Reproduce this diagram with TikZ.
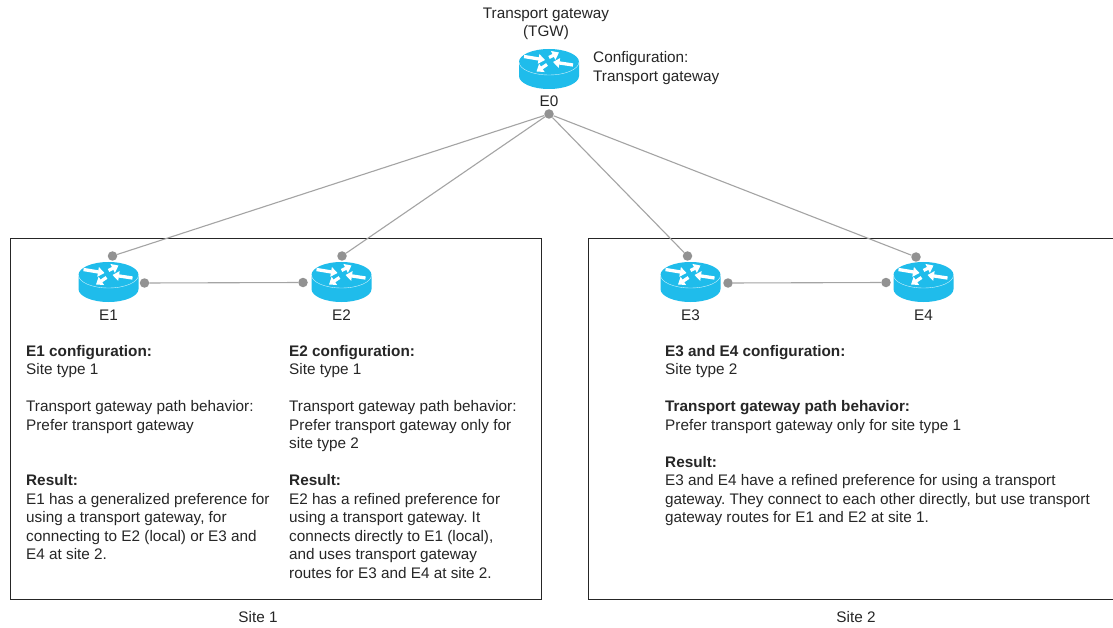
\documentclass[tikz,border=0pt]{standalone}
\usepackage{fontspec}
\usetikzlibrary{arrows.meta}
\setmainfont{Liberation Sans}
\frenchspacing
\definecolor{rblue}{HTML}{1FBCEB}
\definecolor{rline}{HTML}{A4A4A4}
\definecolor{rdot}{HTML}{929292}
\definecolor{txt}{HTML}{262626}
\tikzset{
  x=1pt,y=-1pt,
  dotnode/.style={circle,fill=rdot,draw=none,minimum size=9.5pt,inner sep=0pt},
  link/.style={draw=rline,line width=1.1pt},
  sitebox/.style={draw=black!85,line width=0.8pt},
  lab/.style={font=\fontsize{15.3}{18.5}\selectfont\frenchspacing,text=txt,inner sep=0pt,align=left},
  ctr/.style={font=\fontsize{15.3}{18.5}\selectfont\frenchspacing,text=txt,inner sep=0pt,align=center},
  rarrow/.style={draw=white,line width=3.3pt,-{Triangle[length=6.5pt,width=9.5pt]}},
  router/.pic={
    \fill[rblue] (-30,0) -- (-30,14) arc[start angle=180,end angle=0,x radius=30,y radius=13] -- (30,0) arc[start angle=0,end angle=-180,x radius=30,y radius=13] -- cycle;
    \draw[white,line width=0.4pt,opacity=.8] (-30,0) arc[start angle=180,end angle=0,x radius=30,y radius=13];
    \draw[rarrow] (-25,-5.5) -- (-4,-2);
    \draw[rarrow] (24,3) -- (4,0);
    \draw[rarrow] (0,-4.5) -- (10,-9.5);
    \draw[rarrow] (-2,2.5) -- (-12.5,9.5);
  }
}
\begin{document}
\begin{tikzpicture}
\useasboundingbox (0,0) rectangle (1113,628);
\fill[white] (0,0) rectangle (1113,628);

\draw[sitebox] (10.5,238.5) rectangle (541.5,599.5);
\draw[sitebox] (1113,238.5) -- (588.5,238.5) -- (588.5,599.5) -- (1113,599.5);

\pic at (549,62) {router};
\pic at (108.5,275) {router};
\pic at (341.5,275) {router};
\pic at (690.5,275) {router};
\pic at (923.5,275) {router};

\node[dotnode] (d0) at (549,114) {};
\node[dotnode] (d1t) at (112.5,256) {};
\node[dotnode] (d1r) at (144.5,283) {};
\node[dotnode] (d2l) at (303,282.5) {};
\node[dotnode] (d2t) at (342,256) {};
\node[dotnode] (d3t) at (687.5,256) {};
\node[dotnode] (d3r) at (728,283) {};
\node[dotnode] (d4l) at (886,282.5) {};
\node[dotnode] (d4t) at (916,257) {};

\draw[link] (d0) -- (d1t);
\draw[link] (d0) -- (d2t);
\draw[link] (d0) -- (d3t);
\draw[link] (d0) -- (d4t);
\draw[link] (d1r) -- (d2l);
\draw[link] (d3r) -- (d4l);

\node[ctr] (tgw) at (546,24) {Transport gateway\\(TGW)};
\node[lab,anchor=west] (cfg) at (593,68) {Configuration:\\Transport gateway};
\node[ctr] (e0) at (549,101) {E0};
\node[ctr] (e1) at (108.5,315) {E1};
\node[ctr] (e2) at (341.5,315) {E2};
\node[ctr] (e3) at (690.5,315) {E3};
\node[ctr] (e4) at (923.5,315) {E4};

\node[lab,anchor=north west] (t1) at (26,345) {\textbf{E1 configuration:}\\Site type 1\\[18.5pt]Transport gateway path behavior:\\Prefer transport gateway\\[37pt]\textbf{Result:}\\E1 has a generalized preference for\\using a transport gateway, for\\connecting to E2 (local) or E3 and\\E4 at site 2.};
\node[lab,anchor=north west] (t2) at (289,345) {\textbf{E2 configuration:}\\Site type 1\\[18.5pt]Transport gateway path behavior:\\Prefer transport gateway only for\\site type 2\\[18.5pt]\textbf{Result:}\\E2 has a refined preference for\\using a transport gateway. It\\connects directly to E1 (local),\\and uses transport gateway\\routes for E3 and E4 at site 2.};
\node[lab,anchor=north west] (t3) at (665,345) {\textbf{E3 and E4 configuration:}\\Site type 2\\[18.5pt]\textbf{Transport gateway path behavior:}\\Prefer transport gateway only for site type 1\\[18.5pt]\textbf{Result:}\\E3 and E4 have a refined preference for using a transport\\gateway. They connect to each other directly, but use transport\\gateway routes for E1 and E2 at site 1.};

\node[ctr] (s1) at (258,617) {Site 1};
\node[ctr] (s2) at (856,617) {Site 2};
\end{tikzpicture}
\end{document}
